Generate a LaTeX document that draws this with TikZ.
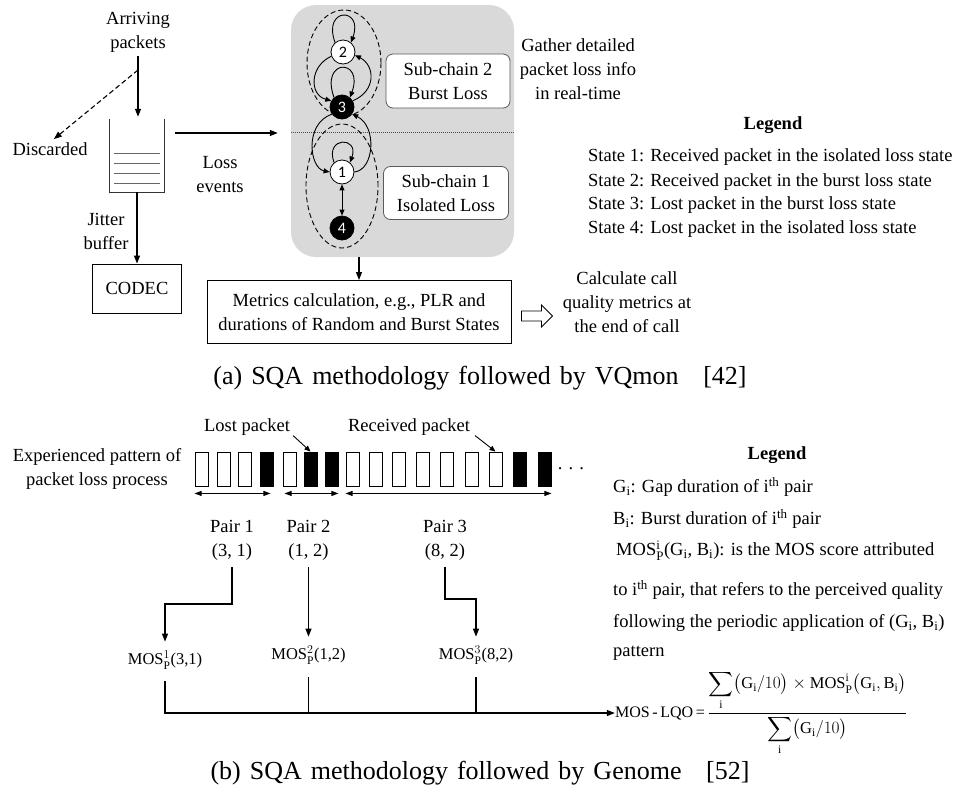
\documentclass[tikz,border=0pt]{standalone}
\usepackage{exscale}
\usepackage{fontspec}
\setmainfont{Liberation Serif}
\newfontfamily\statefont{Carlito}
\newcommand\capspacing{\spaceskip=9pt plus 2pt\relax}
\usetikzlibrary{arrows.meta,shapes.geometric,calc}
\definecolor{chainbg}{RGB}{217,217,217}
\definecolor{boxedge}{RGB}{90,90,90}

\begin{document}
\begin{tikzpicture}[x=1pt,y=1pt,
  every node/.style={font=\fontsize{18.5}{24}\selectfont, inner sep=0pt},
  lbl/.style={align=center},
  arr/.style={-{Triangle[length=8pt,width=6pt]}, line width=1.1pt},
  carr/.style={-{Triangle[length=6pt,width=5pt]}, line width=0.9pt},
  darr/.style={{Triangle[length=7pt,width=5pt]}-{Triangle[length=7pt,width=5pt]}, line width=0.9pt},
  mstate/.style={circle, draw, line width=0.8pt, minimum size=24pt,
    font=\statefont\fontsize{16}{16}\selectfont},
  subchain/.style={ellipse, draw, line width=0.9pt, dash pattern=on 5pt off 3pt},
  subbox/.style={draw=boxedge, line width=0.8pt, fill=white, rounded corners=7pt,
    minimum width=124pt, minimum height=54pt, align=center},
  pkt/.style={draw, line width=0.9pt, minimum width=13pt, minimum height=34pt},
  mosfont/.style={font=\fontsize{16.5}{19}\selectfont},
  capfont/.style={font=\fontsize{26}{30}\selectfont}]
\useasboundingbox (0,0) rectangle (955,-798);

% ================= (a) VQmon =================
\node[lbl] (arriving) at (138,-32) {Arriving\\packets};
\node[minimum width=54pt, minimum height=73pt] (buf) at (137,-155.5) {};
\draw[line width=1pt, black!80] (buf.north west) -- (buf.south west) -- (buf.south east) -- (buf.north east);
\foreach \y in {153,163,173,183} \draw[line width=1pt, black!60] (114,-\y) -- (160,-\y);
\draw[arr, shorten <=4pt, shorten >=2pt] (arriving.south) -- (arriving.south |- buf.north);

\coordinate (split) at (138,-70);
\node (disc) at (50,-149) {Discarded};
\draw[arr, dash pattern=on 5pt off 3pt, shorten >=5pt] (split) -- (disc.north);

\coordinate (lossrow) at (0,-133);
\node[lbl] (loss) at (220,-175) {Loss\\events};
\node[rectangle, rounded corners=25pt, fill=chainbg, minimum width=223pt, minimum height=252pt] (chain) at (402.5,-131) {};
\draw[arr, shorten <=11pt, shorten >=13pt] (buf.east |- lossrow) -- (chain.west |- lossrow);

\node[lbl] (jit) at (106,-231) {Jitter\\buffer};
\node[draw, line width=1pt, minimum width=89pt, minimum height=49pt] (codec) at (137,-288.5) {CODEC};
\draw[arr] (buf.south) -- (codec.north);

% Markov chain
\coordinate (divider) at (0,-132);
\draw[densely dotted, line width=1pt, black!70] (chain.west |- divider) -- (chain.east |- divider);
\node[subchain, minimum width=74pt, minimum height=106pt] (burst) at (344,-63) {};
\node[subchain, minimum width=72pt, minimum height=124pt] (isol) at (342,-186) {};

\node[mstate, fill=white] (s2) at (343,-52) {2};
\node[mstate, fill=black, text=white] (s3) at (342,-107) {3};
\node[mstate, fill=white] (s1) at (342,-172) {1};
\node[mstate, fill=black, text=white] (s4) at (342,-228) {4};

\draw[carr] (s2.130) .. controls +(110:38) and +(70:38) .. (s2.50);
\draw[carr] (s3.130) .. controls +(110:42) and +(70:42) .. (s3.50);
\draw[carr] (s1.130) .. controls +(110:28) and +(70:28) .. (s1.50);
\draw[carr] (s2.200) .. controls +(-22,-10) and +(-22,6) .. (s3.150);
\draw[carr] (s3.30) .. controls +(24,10) and +(20,-10) .. (s2.-15);
\draw[carr] (s3.215) .. controls +(-28,-10) and +(-20,4) .. (s1.180);
\draw[carr] (s1.0) .. controls +(20,2) and +(25,-12) .. (s3.-35);
\draw[{Triangle[length=6pt,width=5pt]}-{Triangle[length=6pt,width=5pt]}, line width=0.9pt] (s1) -- (s4);

\node[subbox] (sub2) at (448,-81) {Sub-chain 2\\Burst Loss};
\node[subbox, minimum width=125pt, minimum height=53pt] (sub1) at (446,-193) {Sub-chain 1\\Isolated Loss};

\node[lbl] (gather) at (578,-69) {Gather detailed\\packet loss info\\in real-time};

\node[font=\fontsize{18.5}{24}\selectfont\bfseries] (lega) at (773,-125) {Legend};
\node[anchor=west] (st1) at (588,-157) {State 1: Received packet in the isolated loss state};
\node[anchor=west] (st2) at (588,-182) {State 2: Received packet in the burst loss state};
\node[anchor=west] (st3) at (588,-205) {State 3: Lost packet in the burst loss state};
\node[anchor=west] (st4) at (588,-229) {State 4: Lost packet in the isolated loss state};

\node[draw, line width=1pt, minimum width=304pt, minimum height=63pt, align=center] (metrics) at (359,-312)
  {Metrics calculation, e.g., PLR and\\durations of Random and Burst States};
\draw[arr] (chain.south -| metrics.north) -- (metrics.north);
% hollow block arrow
\coordinate (hollow) at ([xshift=10pt,yshift=-4pt]metrics.east);
\draw[line width=0.9pt] (hollow) ++(0,5) -- ++(20,0) -- ++(0,6) -- ++(11,-11)
  -- ++(-11,-11) -- ++(0,6) -- ++(-20,0) -- cycle;
\node[lbl] (calc) at (627,-302) {Calculate call\\quality metrics at\\the end of call};

\node[capfont] (capa) at (480,-378) {\capspacing (a) SQA methodology followed by VQmon\hspace{0.6em} [42]};

% ================= (b) Genome =================
\node[lbl] (exp) at (97,-469) {Experienced pattern of\\packet loss process};
\foreach \k/\xl/\f in {1/195/white,2/217/white,3/238/white,4/260/black,5/283/white,6/304/black,
  7/325/black,8/346/white,9/369/white,10/392/white,11/416/white,12/440/white,13/465/white,
  14/489/white,15/513/black,16/538/black}
  \node[pkt, fill=\f] (p\k) at (\xl+6.5,-469) {};
\node (dots) at (571,-469) {.\,\,.\,\,.};

\draw[darr] ([yshift=-7pt]p1.south west) -- ([yshift=-7pt,xshift=-3pt]p4.south east);
\draw[darr] ([yshift=-7pt,xshift=2pt]p5.south west) -- ([yshift=-7pt]p7.south east);
\draw[darr] ([yshift=-7pt]p8.south west) -- ([yshift=-7pt]p16.south east);

\node (lost) at (247,-427) {Lost packet};
\draw[carr] ([xshift=3pt]lost.south east) -- (p6.north);
\node (recv) at (409,-427) {Received packet};
\draw[carr] ([xshift=5pt]recv.south east) -- (p14.north);

\node[lbl] (pair1) at (232,-540) {Pair 1\\(3, 1)};
\node[lbl] (pair2) at (308.5,-540) {Pair 2\\(1, 2)};
\node[lbl] (pair3) at (445,-540) {Pair 3\\(8, 2)};

\node[mosfont] (mos1) at (165,-660) {MOS$^{1}_{\mathrm{P}}$(3,1)};
\node[mosfont] (mos2) at (308.5,-655) {MOS$^{2}_{\mathrm{P}}$(1,2)};
\node[mosfont] (mos3) at (476,-655) {MOS$^{3}_{\mathrm{P}}$(8,2)};

\coordinate (bend1) at (0,-604);
\coordinate (bend3) at (0,-599);
\draw[arr, shorten <=7pt, shorten >=9pt] (pair1.south) -- (pair1.south |- bend1) -| (mos1.north);
\draw[arr, shorten <=7pt, shorten >=9pt] (pair2.south) -- (mos2.north);
\draw[arr, shorten <=7pt, shorten >=9pt] (pair3.south) -- (pair3.south |- bend3) -| (mos3.north);

\node[font=\fontsize{16}{19}\selectfont] (lqo) at (660,-713) {MOS\,-\,LQO\,=};
\node[anchor=west, font=\fontsize{16.5}{19}\selectfont] (frac) at ([xshift=2pt]lqo.east)
  {$\displaystyle\frac{\displaystyle\sum\limits_{\mathrm{i}}\bigl(\mathrm{G}_{\mathrm{i}}/10\bigr)\times\mathrm{MOS}^{\mathrm{i}}_{\mathrm{P}}\bigl(\mathrm{G}_{\mathrm{i}},\mathrm{B}_{\mathrm{i}}\bigr)}{\displaystyle\sum\limits_{\mathrm{i}}\bigl(\mathrm{G}_{\mathrm{i}}/10\bigr)}$};

\draw[arr, shorten <=12pt] (mos1.south) |- (lqo.west);
\draw[line width=1.1pt, shorten <=13pt] (mos2.south) -- (mos2.south |- lqo.west);
\draw[line width=1.1pt, shorten <=13pt] (mos3.south) -- (mos3.south |- lqo.west);

\node[font=\fontsize{18.5}{24}\selectfont\bfseries] (legb) at (777,-455) {Legend};
\node[anchor=west] (lg) at (613,-487) {G\textsubscript{i}: Gap duration of i\textsuperscript{th} pair};
\node[anchor=west] (lb) at (613,-519) {B\textsubscript{i}: Burst duration of i\textsuperscript{th} pair};
\node[anchor=west] (lm) at (616,-551) {MOS$^{\mathrm{i}}_{\mathrm{P}}$(G\textsubscript{i}, B\textsubscript{i}): is the MOS score attributed};
\node[anchor=west] (lt) at (613,-590) {to i\textsuperscript{th} pair, that refers to the perceived quality};
\node[anchor=west] (lf) at (613,-623) {following the periodic application of (G\textsubscript{i}, B\textsubscript{i})};
\node[anchor=west] (lp) at (613,-653) {pattern};

\node[capfont] (capb) at (480,-773) {\capspacing (b) SQA methodology followed by Genome\hspace{0.6em} [52]};
\end{tikzpicture}
\end{document}
